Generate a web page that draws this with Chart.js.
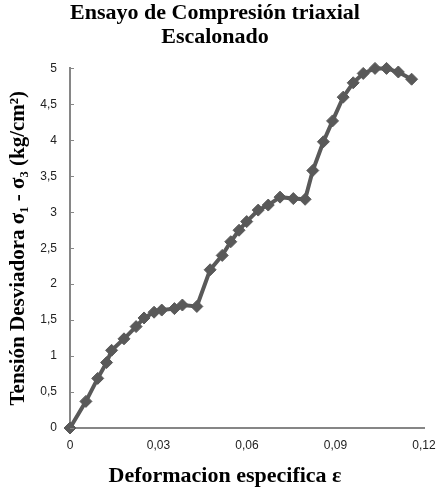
<!DOCTYPE html>
<html>
<head>
<meta charset="utf-8">
<script src="https://cdn.jsdelivr.net/npm/chart.js@4"></script>
<style>
html,body{margin:0;padding:0;background:#fff;}
#wrap{width:439px;height:489px;position:relative;}
</style>
</head>
<body>
<div id="wrap"><canvas id="c" width="439" height="489"></canvas></div>
<script>
const strainValues = [0, 0.0054, 0.0094, 0.0124, 0.0141, 0.0183, 0.0224, 0.0251, 0.0285, 0.0311, 0.0354, 0.0381, 0.043, 0.0475, 0.0516, 0.0545, 0.0573, 0.0599, 0.0638, 0.0672, 0.0712, 0.0757, 0.0797, 0.0823, 0.0859, 0.089, 0.0926, 0.096, 0.0994, 0.1034, 0.1073, 0.1113, 0.1158];
const stressValues = [0, 0.37, 0.69, 0.91, 1.08, 1.24, 1.41, 1.53, 1.61, 1.64, 1.66, 1.71, 1.69, 2.2, 2.4, 2.59, 2.75, 2.87, 3.03, 3.1, 3.21, 3.19, 3.18, 3.58, 3.98, 4.27, 4.6, 4.8, 4.93, 5.0, 5.0, 4.95, 4.85];
const xTicks = [0, 0.03, 0.06, 0.09, 0.12];
const yTicks = [0, 0.5, 1, 1.5, 2, 2.5, 3, 3.5, 4, 4.5, 5];
const titleLines = ['Ensayo de Compresión triaxial', 'Escalonado'];
const xTitle = 'Deformacion especifica ε';
const yTitle = 'Tensión Desviadora σ₁ - σ₃ (kg/cm²)';

const fmt = v => String(Math.round(v * 1000) / 1000).replace('.', ',');

const points = strainValues.map((x, i) => ({ x: x, y: stressValues[i] }));

const serif = "'Liberation Serif', 'Times New Roman', serif";
const sans = "'Liberation Sans', Arial, sans-serif";

const extras = {
  id: 'extras',
  afterDatasetsDraw(chart) {
    const ctx = chart.ctx;
    const ys = chart.scales.y;
    const xs = chart.scales.x;
    ctx.save();
    ctx.strokeStyle = '#868686';
    ctx.lineWidth = 1;
    yTicks.forEach(v => {
      const py = Math.round(ys.getPixelForValue(v)) + 0.5;
      ctx.beginPath();
      ctx.moveTo(xs.left, py);
      ctx.lineTo(xs.left + 4, py);
      ctx.stroke();
    });
    ctx.restore();
  },
  afterDraw(chart) {
    const ctx = chart.ctx;
    ctx.save();
    ctx.fillStyle = '#000';
    ctx.font = "bold 22px " + serif;
    ctx.textAlign = 'center';
    ctx.textBaseline = 'middle';
    ctx.fillText(xTitle, 225, 476);
    ctx.restore();
  }
};

new Chart(document.getElementById('c'), {
  type: 'scatter',
  data: {
    datasets: [{
      data: points,
      showLine: true,
      borderColor: '#595959',
      backgroundColor: '#595959',
      borderWidth: 4,
      pointStyle: 'rectRot',
      pointRadius: 6,
      pointBorderWidth: 1,
      pointBorderColor: '#595959',
      pointBackgroundColor: '#595959',
      tension: 0,
      clip: false
    }]
  },
  options: {
    responsive: false,
    animation: false,
    devicePixelRatio: 1,
    layout: { padding: { left: 6, right: 15, top: 0, bottom: 0 } },
    plugins: {
      legend: { display: false },
      tooltip: { enabled: false },
      title: {
        display: true,
        text: titleLines,
        color: '#000',
        font: { family: serif, size: 22, weight: 'bold', lineHeight: 1.1 },
        padding: { top: 1, bottom: 19 }
      }
    },
    scales: {
      x: {
        type: 'linear',
        min: 0,
        max: 0.12,
        afterBuildTicks: s => { s.ticks = xTicks.map(v => ({ value: v })); },
        afterFit: s => { s.height = 61; s.paddingLeft = 0; s.paddingRight = 0; },
        grid: { display: false, drawTicks: false },
        border: { display: true, color: '#868686', width: 2 },
        ticks: {
          padding: 10,
          color: '#222',
          font: { family: sans, size: 12 },
          callback: v => fmt(v),
          maxRotation: 0
        },
        title: { display: false }
      },
      y: {
        type: 'linear',
        min: 0,
        max: 5,
        afterBuildTicks: s => { s.ticks = yTicks.map(v => ({ value: v })); },
        afterFit: s => { s.width = 64; s.paddingTop = 0; s.paddingBottom = 0; },
        grid: { display: false, drawTicks: false },
        border: { display: true, color: '#868686', width: 2 },
        ticks: {
          padding: 13,
          color: '#222',
          font: { family: sans, size: 12 },
          callback: v => fmt(v)
        },
        title: {
          display: true,
          text: yTitle,
          color: '#000',
          font: { family: serif, size: 21, weight: 'bold', lineHeight: 1.2 },
          padding: { top: 0, bottom: 0 }
        }
      }
    }
  },
  plugins: [extras]
});
</script>
</body>
</html>
